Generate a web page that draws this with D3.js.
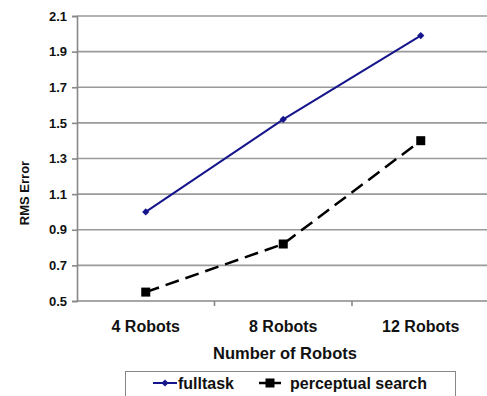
<!DOCTYPE html>
<html>
<head>
<meta charset="utf-8">
<script src="https://cdn.jsdelivr.net/npm/d3@7"></script>
<style>
  html, body { margin: 0; padding: 0; background: #fff; }
  svg { display: block; font-family: "Liberation Sans", Arial, sans-serif; font-weight: bold; }
</style>
</head>
<body>
<svg id="chart" width="487" height="396"></svg>
<script>
// Data
const categories = ["4 Robots", "8 Robots", "12 Robots"];
const fulltask = [1.0, 1.52, 1.99];
const perceptualSearch = [0.55, 0.82, 1.40];
const yTicks = [0.5, 0.7, 0.9, 1.1, 1.3, 1.5, 1.7, 1.9, 2.1];
const seriesNames = ["fulltask", "perceptual search"];

const svg = d3.select("#chart");
const plotLeft = 77, plotRight = 489.5, plotTop = 16, plotBottom = 301;
const navy = "#16168c";

const x = d3.scaleBand().domain(categories).range([plotLeft, plotRight]).padding(0);
const y = d3.scaleLinear().domain([0.5, 2.1]).range([plotBottom, plotTop]);
const cx = c => x(c) + x.bandwidth() / 2;

// Horizontal gridlines
svg.append("g")
  .selectAll("line")
  .data(yTicks.filter(t => t > 0.5))
  .join("line")
  .attr("x1", plotLeft).attr("x2", 487)
  .attr("y1", d => y(d)).attr("y2", d => y(d))
  .attr("stroke", "#9a9a9a").attr("stroke-width", 1.6);

// Y axis
const yAxis = svg.append("g")
  .attr("transform", `translate(${plotLeft},0)`)
  .call(d3.axisLeft(y).tickValues(yTicks).tickFormat(d3.format(".1f")).tickSize(5).tickPadding(5));
yAxis.select(".domain").attr("stroke", "#888").attr("stroke-width", 1.6);
yAxis.selectAll(".tick line").attr("stroke", "#888").attr("stroke-width", 1.6);
yAxis.selectAll("text").attr("font-size", 13).attr("font-weight", "bold").attr("fill", "#111")
  .attr("font-family", "Liberation Sans, Arial, sans-serif");

// X axis: ticks sit on band boundaries
const xAxisG = svg.append("g").attr("transform", `translate(0,${plotBottom})`);
xAxisG.append("line").attr("x1", plotLeft).attr("x2", 487).attr("y1", 0).attr("y2", 0)
  .attr("stroke", "#888").attr("stroke-width", 1.6);
xAxisG.selectAll("line.tk")
  .data(categories.slice(1))
  .join("line").attr("class", "tk")
  .attr("x1", d => x(d)).attr("x2", d => x(d))
  .attr("y1", 0).attr("y2", 5)
  .attr("stroke", "#888").attr("stroke-width", 1.6);
xAxisG.selectAll("text")
  .data(categories)
  .join("text")
  .attr("x", d => cx(d)).attr("y", 31)
  .attr("text-anchor", "middle")
  .attr("font-size", 16).attr("fill", "#111")
  .text(d => d);

// Axis titles
svg.append("text")
  .attr("x", 285).attr("y", 359)
  .attr("text-anchor", "middle").attr("font-size", 16.5).attr("fill", "#111")
  .text("Number of Robots");
svg.append("text")
  .attr("transform", `translate(29,193) rotate(-90)`)
  .attr("text-anchor", "middle").attr("font-size", 13).attr("fill", "#111")
  .text("RMS Error");

// Series lines
const line = d3.line().x((d, i) => cx(categories[i])).y(d => y(d));

svg.append("path")
  .datum(perceptualSearch)
  .attr("d", line)
  .attr("fill", "none").attr("stroke", "#000").attr("stroke-width", 2.5)
  .attr("stroke-dasharray", "14,7");

svg.append("path")
  .datum(fulltask)
  .attr("d", line)
  .attr("fill", "none").attr("stroke", navy).attr("stroke-width", 2);

// Markers
svg.append("g").selectAll("rect")
  .data(perceptualSearch)
  .join("rect")
  .attr("x", (d, i) => cx(categories[i]) - 4.5)
  .attr("y", d => y(d) - 4.5)
  .attr("width", 9).attr("height", 9)
  .attr("fill", "#000");

const diamond = d3.symbol().type(d3.symbolSquare).size(26);
svg.append("g").selectAll("path")
  .data(fulltask)
  .join("path")
  .attr("transform", (d, i) => `translate(${cx(categories[i])},${y(d)}) rotate(45)`)
  .attr("d", diamond)
  .attr("fill", navy);

// Legend
const lg = svg.append("g");
lg.append("rect")
  .attr("x", 125.5).attr("y", 371.5).attr("width", 330).attr("height", 40)
  .attr("fill", "#fff").attr("stroke", "#888").attr("stroke-width", 1);

// fulltask entry
lg.append("line").attr("x1", 153).attr("x2", 177).attr("y1", 383).attr("y2", 383)
  .attr("stroke", navy).attr("stroke-width", 2);
lg.append("path").attr("transform", "translate(165,383) rotate(45)").attr("d", diamond).attr("fill", navy);
lg.append("text").attr("x", 178).attr("y", 389).attr("font-size", 16).attr("fill", "#111").text(seriesNames[0]);

// perceptual search entry
lg.append("line").attr("x1", 259).attr("x2", 281).attr("y1", 383).attr("y2", 383)
  .attr("stroke", "#000").attr("stroke-width", 2.5);
lg.append("rect").attr("x", 265.5).attr("y", 378.5).attr("width", 9).attr("height", 9).attr("fill", "#000");
lg.append("text").attr("x", 290).attr("y", 389).attr("font-size", 16).attr("fill", "#111").text(seriesNames[1]);
</script>
</body>
</html>
